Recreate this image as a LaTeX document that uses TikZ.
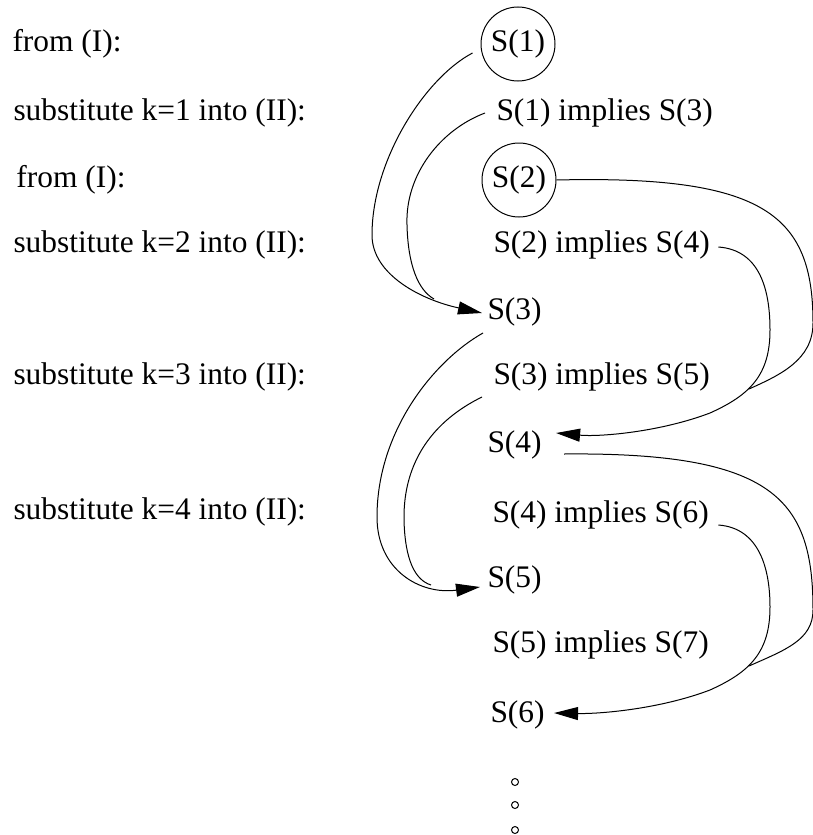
\documentclass[tikz,border=0pt]{standalone}
\usepackage{fontspec}
\setmainfont{Liberation Serif}
\usetikzlibrary{arrows.meta}

\begin{document}
\begin{tikzpicture}[x=0.5pt,y=-0.5pt,line width=0.5pt,
  every node/.style={font=\fontsize{15.7}{18}\selectfont},
  lbl/.style={anchor=west,inner sep=0pt},
  given/.style={circle,draw,minimum size=37pt,inner sep=0pt},
  link/.style={-{Triangle[length=12pt,width=6.5pt]}}]
  \useasboundingbox (0,0) rectangle (813,835);
  % left column
  \foreach \n/\x/\y/\txt in {f1/12/44/from (I):, k1/13/113/substitute k=1 into (II):,
      f2/16/180/from (I):, k2/13/245/substitute k=2 into (II):,
      k3/13/377/substitute k=3 into (II):, k4/13/512/substitute k=4 into (II):}
     \node[lbl] (\n) at (\x,\y) {\txt};
  % right column
  \node[given] (s1) at (518,44) {S(1)};
  \node[lbl] (i1) at (496,113) {S(1) implies S(3)};
  \node[given] (s2) at (519,180) {S(2)};
  \node[lbl] (i2) at (493,245) {S(2) implies S(4)};
  \node[lbl] (s3) at (487,312) {S(3)};
  \node[lbl] (i3) at (493,377) {S(3) implies S(5)};
  \node[lbl] (s4) at (487,445) {S(4)};
  \node[lbl] (i4) at (492,515) {S(4) implies S(6)};
  \node[lbl] (s5) at (487,580) {S(5)};
  \node[lbl] (i5) at (492,645) {S(5) implies S(7)};
  \node[lbl] (s6) at (490,715) {S(6)};
  \foreach \y [count=\i] in {782,805,830}
     \node[circle,draw,minimum size=3.5pt,inner sep=0pt] (dot\i) at (515,\y) {};
  % where the curves meet
  \coordinate (m3) at (434,299);
  \coordinate (m5) at (431,585);
  \coordinate (m4) at (749,389);
  \coordinate (m6) at (749,666);
  % left loops
  \draw[link] ([shift={(-8,9)}]s1.west) .. controls (425,78) and (372,160) .. (372,235)
     .. controls (372,275) and (422,300) .. ([shift={(-5,1)}]s3.west);
  \draw ([shift={(-11,0)}]i1.west) .. controls (440,130) and (405,175) .. (407,225)
     .. controls (408,265) and (418,290) .. (m3);
  \draw[link] ([shift={(-4,21)}]s3.west) .. controls (435,360) and (377,430) .. (377,517)
     .. controls (377,570) and (420,595) .. ([shift={(-7,7)}]s5.west);
  \draw ([shift={(-11,20)}]i3.west) .. controls (435,420) and (403,460) .. (404,520)
     .. controls (405,560) and (415,580) .. (m5);
  % right loops
  \draw (s2.east) .. controls (765,175) and (813,215) .. (813,323)
     .. controls (813,360) and (780,375) .. (m4);
  \draw[link] ([shift={(8,2)}]i2.east) .. controls (760,250) and (770,290) .. (770,330)
     .. controls (770,375) and (750,395) .. (710,413)
     .. controls (660,432) and (600,437) .. ([shift={(14,-12)}]s4.east);
  \draw ([shift={(22,9)}]s4.east) .. controls (775,452) and (813,500) .. (813,610)
     .. controls (813,640) and (785,650) .. (m6);
  \draw[link] ([shift={(9,10)}]i4.east) .. controls (760,528) and (770,570) .. (770,607)
     .. controls (770,652) and (750,672) .. (710,690)
     .. controls (660,709) and (600,714) .. ([shift={(9,-2)}]s6.east);
\end{tikzpicture}
\end{document}
